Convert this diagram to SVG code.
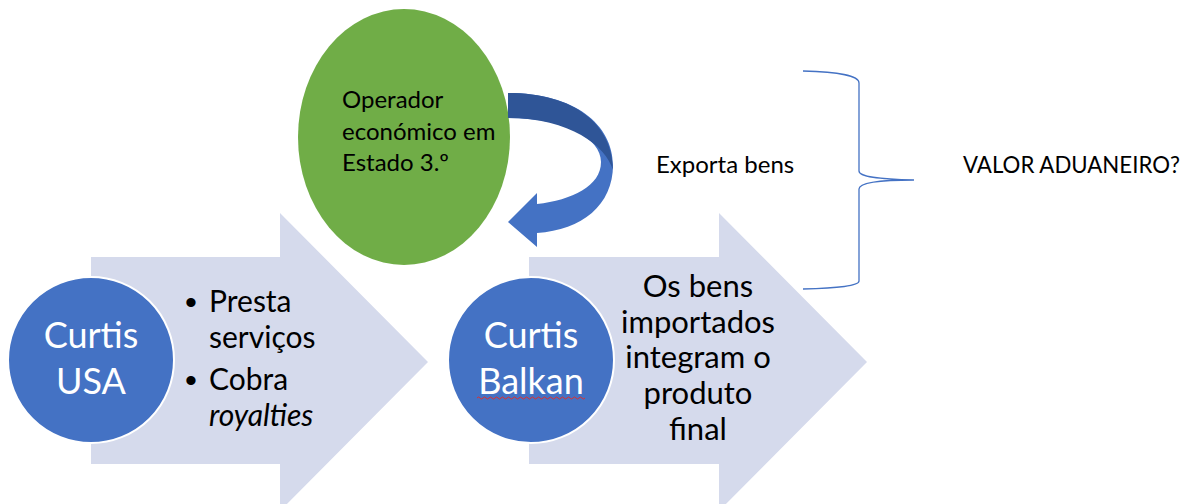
<svg xmlns="http://www.w3.org/2000/svg" width="1202" height="504" viewBox="0 0 1202 504">
<style>
text{font-family:Lato,"Open Sans","Liberation Sans",sans-serif;}
.band{fill:#D5DAEC;}
.circ{fill:#4472C4;stroke:#FFFFFF;stroke-width:2;}
.wt{fill:#FFFFFF;font-size:36px;text-anchor:middle;}
.bt{fill:#000000;font-size:30px;}
.bul{fill:#000000;font-family:"Liberation Sans",sans-serif;font-size:34px;}
.ct{fill:#000000;font-size:31px;text-anchor:middle;}
.st{fill:#000000;font-size:24px;}
.brace{fill:none;stroke:#4472C4;stroke-width:1.3;}
</style>
<rect width="1202" height="504" fill="#FFFFFF"/>
<g id="arrow-left">
<polygon class="band" points="91,257 280,257 280,213 428,362 280,511 280,464 91,464"/>
</g>
<g id="arrow-right">
<polygon class="band" points="529,257 719,257 719,213 867,362 719,511 719,464 529,464"/>
</g>
<g id="operador">
<ellipse cx="404" cy="137" rx="106" ry="128" fill="#70AD47"/>
<text class="st" x="342" y="108">Operador</text>
<text class="st" x="342" y="140">económico em</text>
<text class="st" x="342" y="171">Estado 3.º</text>
</g>
<g id="connectors">
<path d="M508,93 C575,93 613,125 613,165 C613,205 582,230 537,233 L537,247 L508,222 L537,193 L537,204 C572,200 601,186 601,162 C601,138 565,118 508,118 Z" fill="#4472C4"/>
<path d="M508,93 C575,93 613,125 613,170 C606,146 570,118 508,118 Z" fill="#2F5597"/>
</g>
<g id="curtis-usa">
<circle class="circ" cx="91" cy="360" r="83"/>
<text class="wt" x="91" y="348">Curtis</text>
<text class="wt" x="91" y="394">USA</text>
</g>
<g id="usa-text">
<text class="bul" x="185" y="314">•</text>
<text class="bt" x="209" y="312">Presta</text>
<text class="bt" x="209" y="348">serviços</text>
<text class="bul" x="185" y="392">•</text>
<text class="bt" x="209" y="390">Cobra</text>
<text class="bt" x="209" y="426" font-style="italic">royalties</text>
</g>
<g id="curtis-balkan">
<circle class="circ" cx="531" cy="360" r="83"/>
<text class="wt" x="531" y="348">Curtis</text>
<text class="wt" x="531" y="394">Balkan</text>
<path d="M477,398 q1.5,-2 3,0 t3,0 t3,0 t3,0 t3,0 t3,0 t3,0 t3,0 t3,0 t3,0 t3,0 t3,0 t3,0 t3,0 t3,0 t3,0 t3,0 t3,0 t3,0 t3,0 t3,0 t3,0 t3,0 t3,0 t3,0 t3,0 t3,0 t3,0 t3,0 t3,0 t3,0 t3,0 t3,0 t3,0 t3,0 t3,0" fill="none" stroke="#E0302C" stroke-width="1"/>
</g>
<g id="balkan-text">
<text class="ct" x="698" y="297">Os bens</text>
<text class="ct" x="698" y="333">importados</text>
<text class="ct" x="698" y="368">integram o</text>
<text class="ct" x="698" y="404">produto</text>
<text class="ct" x="698" y="440">final</text>
</g>
<g id="exporta">
<text class="st" x="656" y="173">Exporta bens</text>
</g>
<g id="brace">
<path class="brace" d="M803,71 C838,72 859,75 859,83 L859,171 C859,177 878,179 914,180 C878,180 859,183 859,189 L859,281 C859,286 838,288 803,289"/>
</g>
<g id="valor">
<text class="st" x="963" y="173" textLength="217" lengthAdjust="spacingAndGlyphs">VALOR ADUANEIRO?</text>
</g>
</svg>
